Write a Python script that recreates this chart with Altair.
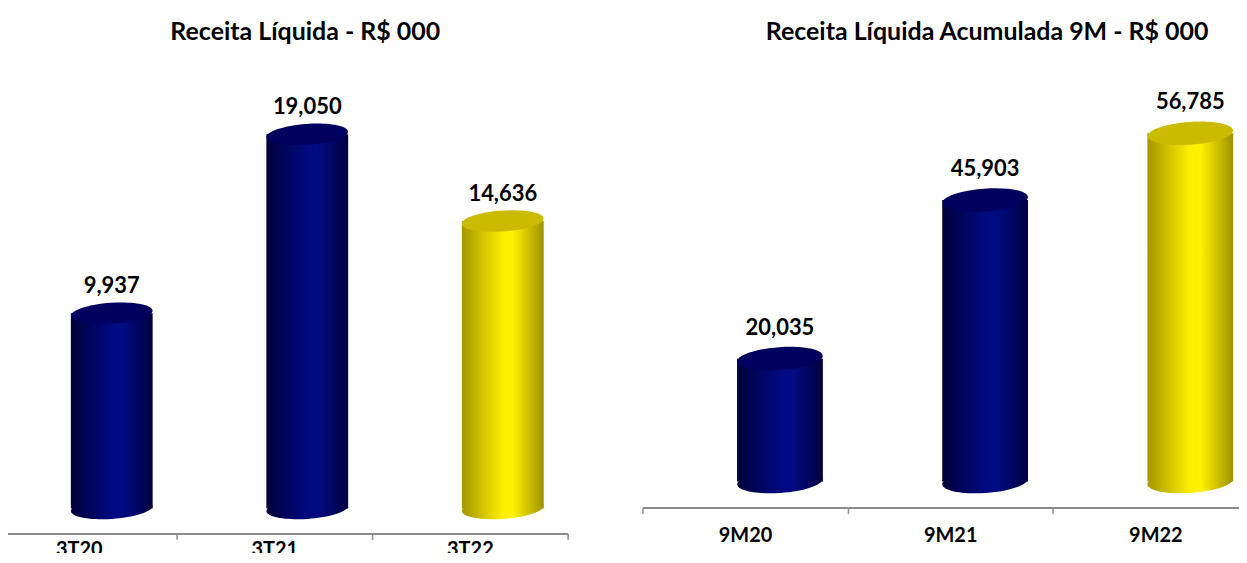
import altair as alt
import pandas as pd

# ---------------- data ----------------
left_categories = ["3T20", "3T21", "3T22"]
left_values = [9937, 19050, 14636]
left_series = ["anterior", "anterior", "atual"]

right_categories = ["9M20", "9M21", "9M22"]
right_values = [20035, 45903, 56785]
right_series = ["anterior", "anterior", "atual"]

left_title = "Receita Líquida - R$ 000"
right_title = "Receita Líquida Acumulada 9M - R$ 000"

FONT = "Lato"
AXIS_GREY = "#8c8c8c"


def grad(stops):
    return alt.Gradient(
        gradient="linear", x1=0, x2=1, y1=0, y2=0,
        stops=[alt.GradientStop(offset=o, color=c) for o, c in stops],
    )


STYLES = {
    "anterior": dict(
        body=grad([(0, "#00003a"), (0.5, "#000a80"), (0.62, "#000c84"), (1, "#000040")]),
        top="#00005e",
    ),
    "atual": dict(
        body=grad([(0, "#a49600"), (0.5, "#fff000"), (0.62, "#fff200"), (1, "#a09200")]),
        top="#cbbb00",
    ),
}


def ellipse(ry):
    return f"M -1 0 A 1 {ry} 0 0 1 1 0 A 1 {ry} 0 0 1 -1 0 Z"


def panel(cats, vals, series, title, width, x_range, height, y_domain,
          bar_w, ry, label_dy, title_dx, label_pad, shift):
    df = pd.DataFrame({"cat": cats, "val": vals, "series": series})
    ys = alt.Scale(domain=y_domain, nice=False, zero=False)
    scale_kw = dict(paddingInner=0, paddingOuter=0)
    if x_range is not None:
        scale_kw["range"] = x_range
    xenc = alt.X(
        "cat:N", sort=cats, scale=alt.Scale(**scale_kw), title=None,
        axis=alt.Axis(
            domainColor=AXIS_GREY, domainWidth=2, tickColor=AXIS_GREY,
            tickWidth=1.5, tickSize=6, tickBand="extent",
            labelFont=FONT, labelFontSize=20, labelFontWeight="bold",
            labelColor="black", labelPadding=label_pad, labelAngle=0, grid=False,
        ),
    )
    base = alt.Chart(df).encode(x=xenc)
    size = bar_w ** 2
    shape = ellipse(ry)
    layers = []
    for key, st in STYLES.items():
        sub = base.transform_filter(alt.datum.series == key)
        layers.append(
            sub.mark_point(shape=shape, size=size, filled=True, fill=st["body"],
                           strokeWidth=0, opacity=1, angle=356, xOffset=shift)
            .encode(y=alt.Y(datum=0, scale=ys, axis=None))
        )
        layers.append(
            sub.mark_bar(size=bar_w, fill=st["body"], xOffset=shift)
            .encode(y=alt.Y("val:Q", scale=ys, axis=None), y2=alt.Y2(datum=0))
        )
        layers.append(
            sub.mark_point(shape=shape, size=size, filled=True, fill=st["top"],
                           strokeWidth=0, opacity=1, angle=356, xOffset=shift)
            .encode(y=alt.Y("val:Q", scale=ys, axis=None))
        )
    layers.append(
        base.mark_text(font=FONT, fontSize=22, fontWeight="bold", color="black",
                       dx=shift, dy=label_dy)
        .encode(y=alt.Y("val:Q", scale=ys, axis=None),
                text=alt.Text("val:Q", format=","))
    )
    return alt.layer(*layers).properties(
        width=width, height=height,
        title=alt.Title(title, font=FONT, fontSize=25, fontWeight="bold",
                        color="black", anchor="middle", dx=title_dx, offset=18),
    )


left = panel(left_categories, left_values, left_series, left_title,
             width=560, x_range=[-28, 560], height=472, y_domain=[-1270, 22708],
             bar_w=82, ry=0.256, label_dy=-27, title_dx=17, label_pad=0, shift=33)

right = panel(right_categories, right_values, right_series, right_title,
              width=617, x_range=None, height=446, y_domain=[-4230, 68337],
              bar_w=86, ry=0.267, label_dy=-31, title_dx=37, label_pad=12, shift=35)

chart = (
    alt.hconcat(left, right, spacing=46)
    .properties(padding={"left": -28, "top": 11, "right": -20, "bottom": -7})
    .configure_view(stroke=None)
)

chart.save("out.html", embed_options={"renderer": "svg", "actions": False})
